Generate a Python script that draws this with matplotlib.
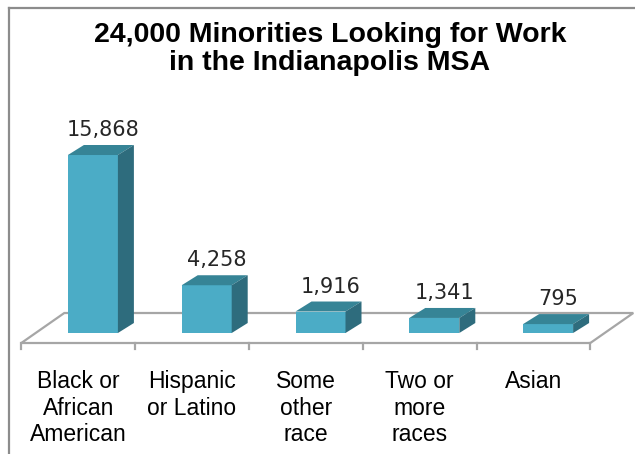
import numpy as np
import matplotlib
matplotlib.use('Agg')
import matplotlib.pyplot as plt
from matplotlib.patches import Polygon
from matplotlib.lines import Line2D

''' chart data '''
categories = ['Black or\nAfrican\nAmerican', 'Hispanic\nor Latino', 'Some\nother\nrace',
              'Two or\nmore\nraces', 'Asian']
values = [15868, 4258, 1916, 1341, 795]
value_labels = ['15,868', '4,258', '1,916', '1,341', '795']
title = '24,000 Minorities Looking for Work\nin the Indianapolis MSA'

FIG_W, FIG_H, DPI = 635, 454, 100
C_FRONT = '#4BACC6'
C_TOP = '#368496'
C_SIDE = '#2E6C7D'
C_FLOOR = '#A6A6A6'


def drawChart(l_cats, l_vals, l_labels):
    fig = plt.figure(figsize=(FIG_W / DPI, FIG_H / DPI), dpi=DPI)
    # axes placed in pixels: x -0.5..4.5 -> 36..605, y bottom 350, top 110
    ax = fig.add_axes([36.0 / FIG_W, (FIG_H - 350.0) / FIG_H, 569.0 / FIG_W, 240.0 / FIG_H])
    ax.set_xlim(-0.5, len(l_vals) - 0.5)
    ax.set_ylim(-1515, 19880)
    ax.axis('off')

    # pixel -> data helpers
    ppx = 569.0 / len(l_vals)
    ppy = 240.0 / (19880 + 1515)
    px = lambda p: p / ppx
    py = lambda p: p / ppy

    x = np.arange(len(l_vals))
    w = px(50)
    bdx, bdy = px(16), py(10)

    # floor (outline parallelogram), bars sit 1/3 back in it
    fshift = px(14.7)
    fy0 = py(-10)
    fdx, fdy = px(43), py(30)
    fl, fr = -0.5 - fshift, len(l_vals) - 0.5 - fshift
    floor = Polygon([(fl, fy0), (fr, fy0), (fr + fdx, fy0 + fdy), (fl + fdx, fy0 + fdy)],
                    closed=True, facecolor='white', edgecolor=C_FLOOR, lw=1.6,
                    zorder=1, clip_on=False)
    ax.add_patch(floor)
    for k in range(len(l_vals) + 1):
        xt = k - 0.5 - fshift
        ax.plot([xt, xt], [fy0, fy0 - py(6)], color=C_FLOOR, lw=1.6, zorder=1, clip_on=False)

    # front faces
    ax.bar(x, l_vals, width=w, color=C_FRONT, zorder=3)
    for xi, v in zip(x, l_vals):
        xr = xi + w / 2
        xl = xi - w / 2
        top = Polygon([(xl, v), (xr, v), (xr + bdx, v + bdy), (xl + bdx, v + bdy)],
                      closed=True, facecolor=C_TOP, edgecolor='none', zorder=3)
        side = Polygon([(xr, 0), (xr, v), (xr + bdx, v + bdy), (xr + bdx, bdy)],
                       closed=True, facecolor=C_SIDE, edgecolor='none', zorder=3)
        ax.add_patch(top)
        ax.add_patch(side)

    for xi, v, lab in zip(x, l_vals, l_labels):
        ax.text(xi + bdx * 0.65, v + bdy + py(5), lab, ha='center', va='bottom',
                fontsize=15, family='DejaVu Sans', color='#262626', zorder=4)

    for xi, cat in zip(x, l_cats):
        ax.text(xi - fshift, fy0 - py(27), cat, ha='center', va='top',
                fontsize=16.5, family='Liberation Sans', color='black',
                linespacing=1.2, clip_on=False)

    fig.text(330.0 / FIG_W, 1 - 22.0 / FIG_H, title, ha='center', va='top',
             fontsize=20.5, fontweight='bold', family='Liberation Sans',
             linespacing=1.12)

    # chart frame, only left and top show in the crop
    fig.add_artist(Line2D([9.0 / FIG_W, 9.0 / FIG_W], [0, 1 - 8.0 / FIG_H],
                          color='#8C8C8C', lw=1.6))
    fig.add_artist(Line2D([9.0 / FIG_W, 1], [1 - 8.0 / FIG_H, 1 - 8.0 / FIG_H],
                          color='#8C8C8C', lw=1.6))

    fig.savefig('out.png', dpi=DPI)


if __name__ == '__main__':
    drawChart(categories, values, value_labels)
